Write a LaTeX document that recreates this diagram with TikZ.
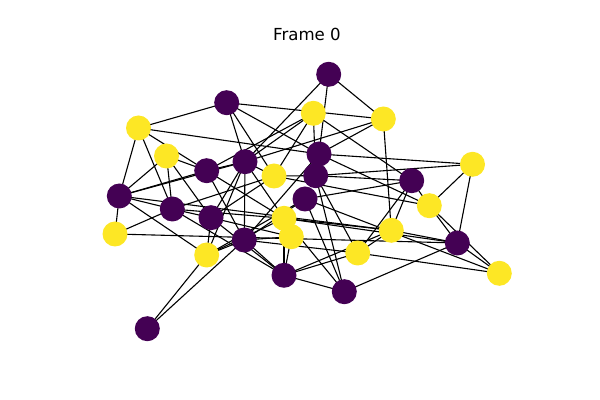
\documentclass[tikz,border=0pt]{standalone}
\usepackage{fontspec}
\setmainfont{DejaVu Sans}
\usetikzlibrary{backgrounds}
\definecolor{vpurple}{HTML}{440154}
\definecolor{vyellow}{HTML}{FDE725}
\begin{document}
\begin{tikzpicture}[x=0.5pt,y=-0.5pt,
			purple node/.style={circle,fill=vpurple,minimum size=12.5pt,inner sep=0pt},
			yellow node/.style={circle,fill=vyellow,minimum size=12.5pt,inner sep=0pt},
			edge/.style={black,line width=0.55pt}
			]
			\useasboundingbox (0,0) rectangle (600,400);
			
			\node[font=\fontsize{8.3}{10}\selectfont] (title) at (307,34) {Frame 0};
			
			% purple nodes
			\foreach \s/\x/\y in {0/328.7/74.3, 1/226.7/102.7, 2/206.7/170.7, 3/245/161.7,
				4/319/154, 5/315.7/175.7, 6/411.7/180.7, 7/119.3/196, 8/172.3/209,
				9/211/217.7, 10/305/199, 11/244.3/240, 12/457.3/243, 13/284/275.3,
				14/344.3/291.7, 15/147.3/328.7} {
				\node[purple node] (\s) at (\x,\y) {};
			}
			% yellow nodes
			\foreach \s/\x/\y in {16/313.3/113.3, 17/383.3/119, 18/138.5/128, 19/166.5/156,
				20/274/176, 21/472.5/164.3, 22/429.3/205.7, 23/115/234, 24/284/218.3,
				25/291.3/236.7, 26/391.3/230.3, 27/206.7/255, 28/357.7/253, 29/499.3/273.3} {
				\node[yellow node] (\s) at (\x,\y) {};
			}
			
			\begin{scope}[on background layer]
				\foreach \a/\b in {15/27, 15/11, 23/7, 18/7, 18/1, 18/8, 18/2, 18/4,
					1/17, 1/3, 1/20, 1/4, 0/4, 0/17, 0/3, 16/5, 16/3, 16/20, 16/2, 16/6,
					17/26, 17/3, 17/4, 4/21, 5/21, 4/22, 5/28, 5/6, 6/26, 6/28, 6/22,
					21/22, 21/12, 22/12, 26/28, 26/12, 19/7, 19/8, 19/2, 19/9, 7/8,
					7/27, 7/2, 12/29, 22/29, 28/29, 14/12, 13/28, 10/14, 5/14, 23/12,
					7/26, 20/22, 10/6, 24/26, 24/12, 11/13, 8/13, 2/3, 3/20, 20/5,
					2/24, 3/24, 3/11, 3/9, 8/9, 8/24, 9/25, 9/27, 9/13, 11/27, 11/25,
					11/10, 11/4, 27/10, 27/24, 27/3, 25/13, 24/13, 9/20, 8/20, 2/11,
					7/3, 10/29, 13/14, 14/24, 13/26, 11/28, 23/8} {
					\draw[edge] (\a.center) -- (\b.center);
				}
			\end{scope}
		\end{tikzpicture}
\end{document}
